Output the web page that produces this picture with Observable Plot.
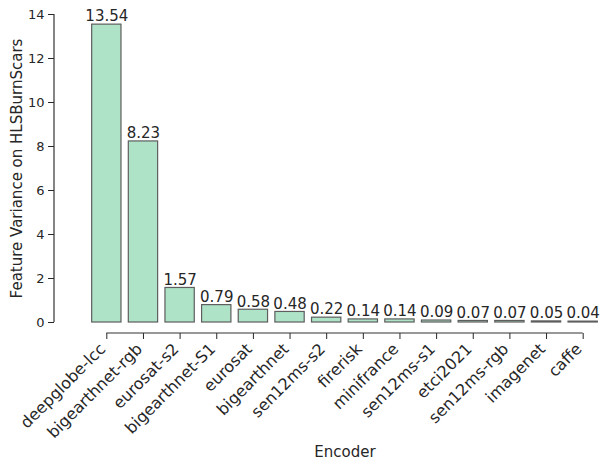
<!DOCTYPE html>
<html><head><meta charset="utf-8">
<script src="https://cdn.jsdelivr.net/npm/d3@7"></script>
<script src="https://cdn.jsdelivr.net/npm/@observablehq/plot@0.6"></script>
<style>body{margin:0;background:#fff}</style>
</head><body><div id="chart"></div>
<script>
const encoders = ["deepglobe-lcc","bigearthnet-rgb","eurosat-s2","bigearthnet-S1","eurosat","bigearthnet","sen12ms-s2","firerisk","minifrance","sen12ms-s1","etci2021","sen12ms-rgb","imagenet","caffe"];
const variances = [13.54, 8.23, 1.57, 0.79, 0.58, 0.48, 0.22, 0.14, 0.14, 0.09, 0.07, 0.07, 0.05, 0.04];
const yTicks = [0, 2, 4, 6, 8, 10, 12, 14];
const xTitle = "Encoder";
const yTitle = "Feature Variance on HLSBurnScars";

const data = encoders.map((e, i) => ({encoder: e, value: variances[i]}));

const chart = Plot.plot({
  width: 601, height: 461,
  marginLeft: 88, marginRight: 0, marginTop: 14, marginBottom: 139,
  style: {fontFamily: "DejaVu Sans, sans-serif", fontSize: "13px", color: "#262626", background: "#fff"},
  x: {domain: encoders, paddingInner: 0.2, paddingOuter: 0.1, round: false, label: null},
  y: {domain: [0, 14], label: null},
  marks: [
    Plot.barY(data, {x: "encoder", y: "value", fill: "#aee3c8", stroke: "#5e5e5e", strokeWidth: 1.2}),
    Plot.text(data, {x: "encoder", y: "value", text: d => d.value.toFixed(2), dy: -8, fontSize: 15, fill: "#262626"}),
    Plot.axisY({ticks: yTicks, tickSize: 6, tickPadding: 4, dx: -34, label: null, fontSize: 13, tickFormat: d => String(d)}),
    Plot.axisX({tickSize: 6, dy: 11, label: null, tickFormat: () => ""}),
    Plot.axisX({tickRotate: -45, tickSize: 6, dy: 12, dx: -4, label: null, fontSize: 16, stroke: "none"}),
    Plot.text([xTitle], {text: d => d, frameAnchor: "bottom", dy: 134, fontSize: 15, fill: "#262626"}),
    Plot.text([yTitle], {text: d => d, frameAnchor: "left", textAnchor: "middle", dx: -71, rotate: -90, fontSize: 15, fill: "#262626"})
  ]
});
document.getElementById("chart").append(chart);

// offset (despined) axis lines drawn from the chart's own scales
const xs = chart.scale("x"), ys = chart.scale("y");
const svg = d3.select(chart);
const xFirst = xs.apply(encoders[0]) + xs.bandwidth / 2;
const xLast = xs.apply(encoders[encoders.length - 1]) + xs.bandwidth / 2;
const yBase = ys.apply(0);
svg.append("line").attr("x1", xFirst).attr("x2", xLast).attr("y1", yBase + 11).attr("y2", yBase + 11)
  .attr("stroke", "#333").attr("stroke-width", 1.2);
const xAxisPos = 88 - 34;
svg.append("line").attr("x1", xAxisPos).attr("x2", xAxisPos).attr("y1", ys.apply(0)).attr("y2", ys.apply(14))
  .attr("stroke", "#333").attr("stroke-width", 1.2);
</script>
</body></html>
